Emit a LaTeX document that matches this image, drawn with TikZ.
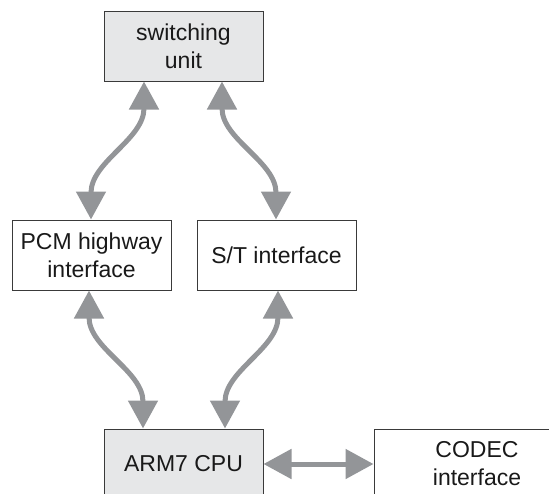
\documentclass[tikz,border=0pt]{standalone}
\usepackage{fontspec}
\setmainfont{Liberation Sans}
\usetikzlibrary{arrows.meta}
\definecolor{boxgray}{HTML}{E6E7E8}
\definecolor{arrowgray}{HTML}{939598}
\definecolor{linegray}{HTML}{3A3A3A}

\begin{document}
\begin{tikzpicture}[x=1pt,y=-1pt,
  block/.style={draw=linegray,line width=1pt,minimum width=159pt,minimum height=70pt,
    inner sep=0pt,align=center,text=black!90,font=\fontsize{23}{28}\selectfont},
  shaded/.style={block,fill=boxgray},
  link/.style={arrowgray,line width=5pt,
    {Triangle[width=29pt,length=28pt]}-{Triangle[width=29pt,length=28pt]}}]
  \useasboundingbox (0,0) rectangle (549,493);
  \clip (0,0) rectangle (549,493);

  \node[shaded] (switch) at (183.5,46) {switching\\unit};
  \node[block] (pcm) at (91.5,255) {PCM highway\\interface};
  \node[block] (st) at (276.5,255) {S/T interface};
  \node[shaded] (cpu) at (183.5,464) {ARM7 CPU};
  \node[block,minimum width=206pt] (codec) at (477,464) {CODEC\\interface};

  \draw[link] ([xshift=-39.5pt]switch.south) to[out=-90,in=90] ([xshift=-0.5pt]pcm.north);
  \draw[link] ([xshift=38.5pt]switch.south) to[out=-90,in=90] ([xshift=-0.5pt]st.north);
  \draw[link] ([xshift=-2.5pt]pcm.south) to[out=-90,in=90] ([xshift=-40.5pt]cpu.north);
  \draw[link] ([xshift=1.5pt]st.south) to[out=-90,in=90] ([xshift=41.5pt]cpu.north);
  \draw[link] (cpu.east) -- (codec.west);
\end{tikzpicture}
\end{document}
